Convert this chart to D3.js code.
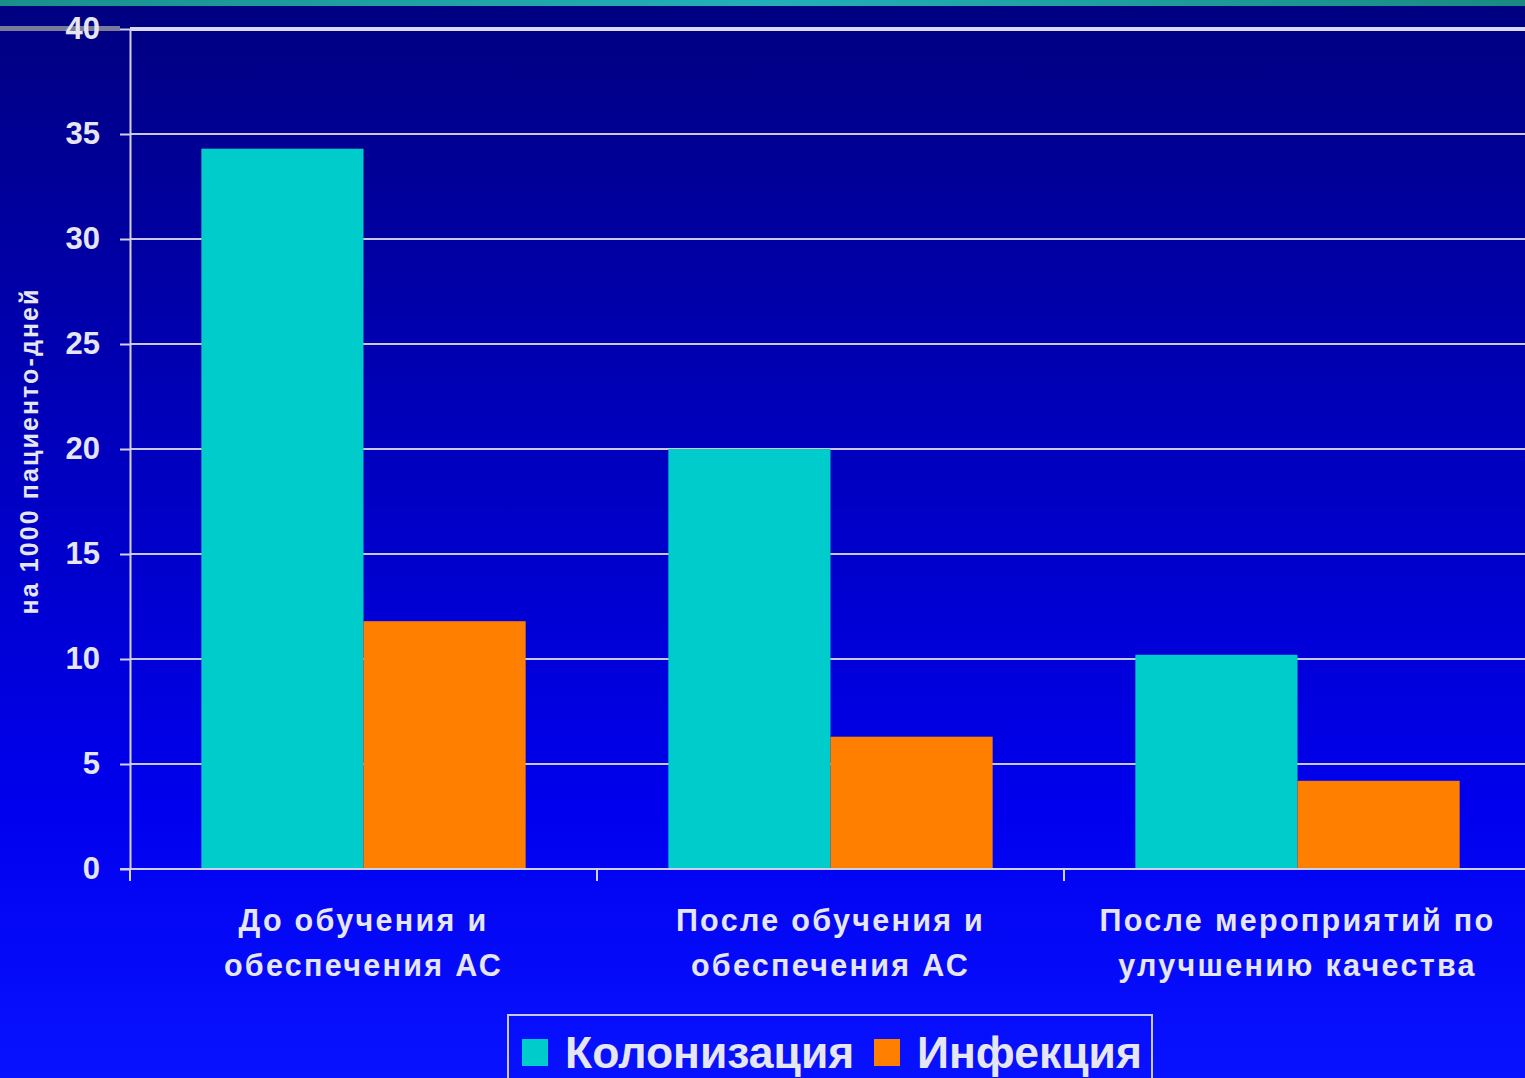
<!DOCTYPE html>
<html>
<head>
<meta charset="utf-8">
<script src="https://cdn.jsdelivr.net/npm/d3@7"></script>
<style>
  html, body { margin: 0; padding: 0; background: #0000c0; overflow: hidden; }
  svg { display: block; font-family: "Liberation Sans", Arial, sans-serif; }
</style>
</head>
<body>
<svg id="chart" width="1525" height="1078"></svg>
<script>
// Incidence per 1000 patient-days, by stage of the programme
const categories = [
  ["До обучения и", "обеспечения АС"],
  ["После обучения и", "обеспечения АС"],
  ["После мероприятий по", "улучшению качества"]
];
const seriesNames = ["Колонизация", "Инфекция"];
const colonization = [34.3, 20.0, 10.2];
const infection = [11.8, 6.3, 4.2];
const yTicks = [0, 5, 10, 15, 20, 25, 30, 35, 40];
const yTitle = "на 1000 пациенто-дней";

const colors = ["#00cccc", "#ff8000"];
const textColor = "#e6e6f2";

const W = 1525, H = 1078;
const m = { left: 130, right: -6, top: 29, bottom: 209 };

const svg = d3.select("#chart");

// slide background: dark navy at the top fading into bright blue
const defs = svg.append("defs");
const bg = defs.append("linearGradient").attr("id", "bg")
  .attr("x1", 0).attr("y1", 0).attr("x2", 0).attr("y2", 1);
bg.append("stop").attr("offset", "0").attr("stop-color", "#000080");
bg.append("stop").attr("offset", "0.35").attr("stop-color", "#0000b4");
bg.append("stop").attr("offset", "0.75").attr("stop-color", "#0000ee");
bg.append("stop").attr("offset", "1").attr("stop-color", "#0812ff");
svg.append("rect").attr("width", W).attr("height", H).attr("fill", "url(#bg)");

// teal header strip
const hdr = defs.append("linearGradient").attr("id", "hdr");
hdr.append("stop").attr("offset", "0").attr("stop-color", "#1a8f8a");
hdr.append("stop").attr("offset", "0.5").attr("stop-color", "#22b0b8");
hdr.append("stop").attr("offset", "1").attr("stop-color", "#1a8a80");
svg.append("rect").attr("width", W).attr("height", 6).attr("fill", "url(#hdr)");
svg.append("line").attr("x1", 0).attr("x2", 120).attr("y1", 28.5).attr("y2", 28.5)
  .attr("stroke", "#7a7a9a").attr("stroke-width", 5);

const x = d3.scaleBand()
  .domain(d3.range(categories.length))
  .range([m.left, W - m.right])
  .paddingInner(0).paddingOuter(0);

const xs = d3.scaleBand()
  .domain(d3.range(seriesNames.length))
  .range([0, x.bandwidth()])
  .paddingInner(0).paddingOuter(0.44);

const y = d3.scaleLinear().domain([0, 40]).range([H - m.bottom, m.top]);

// horizontal gridlines
svg.append("g").selectAll("line").data(yTicks.filter(t => t > 0)).join("line")
  .attr("x1", m.left).attr("x2", W)
  .attr("y1", d => y(d)).attr("y2", d => y(d))
  .attr("stroke", d => d === 40 ? "#d8d8ee" : "#c8c8e6")
  .attr("stroke-width", d => d === 40 ? 4 : 2);

// bars
const groups = svg.append("g").selectAll("g").data(categories.map((c, i) => i)).join("g")
  .attr("transform", i => `translate(${x(i)},0)`);
groups.selectAll("rect")
  .data(i => [colonization[i], infection[i]].map((v, s) => ({ v, s })))
  .join("rect")
  .attr("x", d => xs(d.s))
  .attr("width", xs.bandwidth())
  .attr("y", d => y(d.v))
  .attr("height", d => y(0) - y(d.v))
  .attr("fill", d => colors[d.s]);

// y axis
const yAxis = svg.append("g").attr("transform", `translate(${m.left},0)`)
  .call(d3.axisLeft(y).tickValues(yTicks).tickSize(10).tickPadding(20).tickSizeOuter(0));
yAxis.select(".domain").attr("stroke", "#d0d0ea").attr("stroke-width", 2);
yAxis.selectAll(".tick line").attr("stroke", "#d0d0ea").attr("stroke-width", 2);
yAxis.selectAll(".tick text")
  .attr("fill", textColor).attr("font-size", 31).attr("font-weight", "bold")
  .attr("font-family", "'Liberation Sans', Arial, sans-serif");

// x axis line with tick marks between categories
const xAxis = svg.append("g").attr("transform", `translate(0,${y(0)})`);
xAxis.append("line").attr("x1", m.left - 10).attr("x2", W).attr("y1", 0).attr("y2", 0)
  .attr("stroke", "#d0d0ea").attr("stroke-width", 2);
xAxis.selectAll("line.tk").data(d3.range(categories.length)).join("line").attr("class", "tk")
  .attr("x1", i => x(i)).attr("x2", i => x(i)).attr("y1", 0).attr("y2", 12)
  .attr("stroke", "#d0d0ea").attr("stroke-width", 2);

// category labels (two lines)
const labels = svg.append("g").selectAll("text").data(categories).join("text")
  .attr("x", (d, i) => x(i) + x.bandwidth() / 2)
  .attr("y", 931)
  .attr("text-anchor", "middle")
  .attr("fill", textColor).attr("font-size", 30.5).attr("font-weight", "bold")
  .attr("letter-spacing", 2.3);
labels.selectAll("tspan").data(d => d).join("tspan")
  .attr("x", function () { return this.parentNode.getAttribute("x"); })
  .attr("dy", (d, j) => j === 0 ? 0 : 45)
  .text(d => d);

// y axis title
svg.append("text")
  .attr("transform", `translate(38,451) rotate(-90)`)
  .attr("text-anchor", "middle")
  .attr("fill", textColor).attr("font-size", 25).attr("font-weight", "bold")
  .attr("letter-spacing", 2.1)
  .text(yTitle);

// legend
const lg = svg.append("g").attr("transform", "translate(508,1015)");
lg.append("rect").attr("x", 0).attr("y", 0).attr("width", 644).attr("height", 80)
  .attr("fill", "none").attr("stroke", "#c8c8e6").attr("stroke-width", 2);
const legendX = [14, 366];
seriesNames.forEach((name, i) => {
  lg.append("rect").attr("x", legendX[i]).attr("y", 24).attr("width", 26).attr("height", 27)
    .attr("fill", colors[i]);
  lg.append("text").attr("x", legendX[i] + 43).attr("y", 53)
    .attr("fill", textColor).attr("font-size", 44.5).attr("font-weight", "bold")
    .text(name);
});
</script>
</body>
</html>
